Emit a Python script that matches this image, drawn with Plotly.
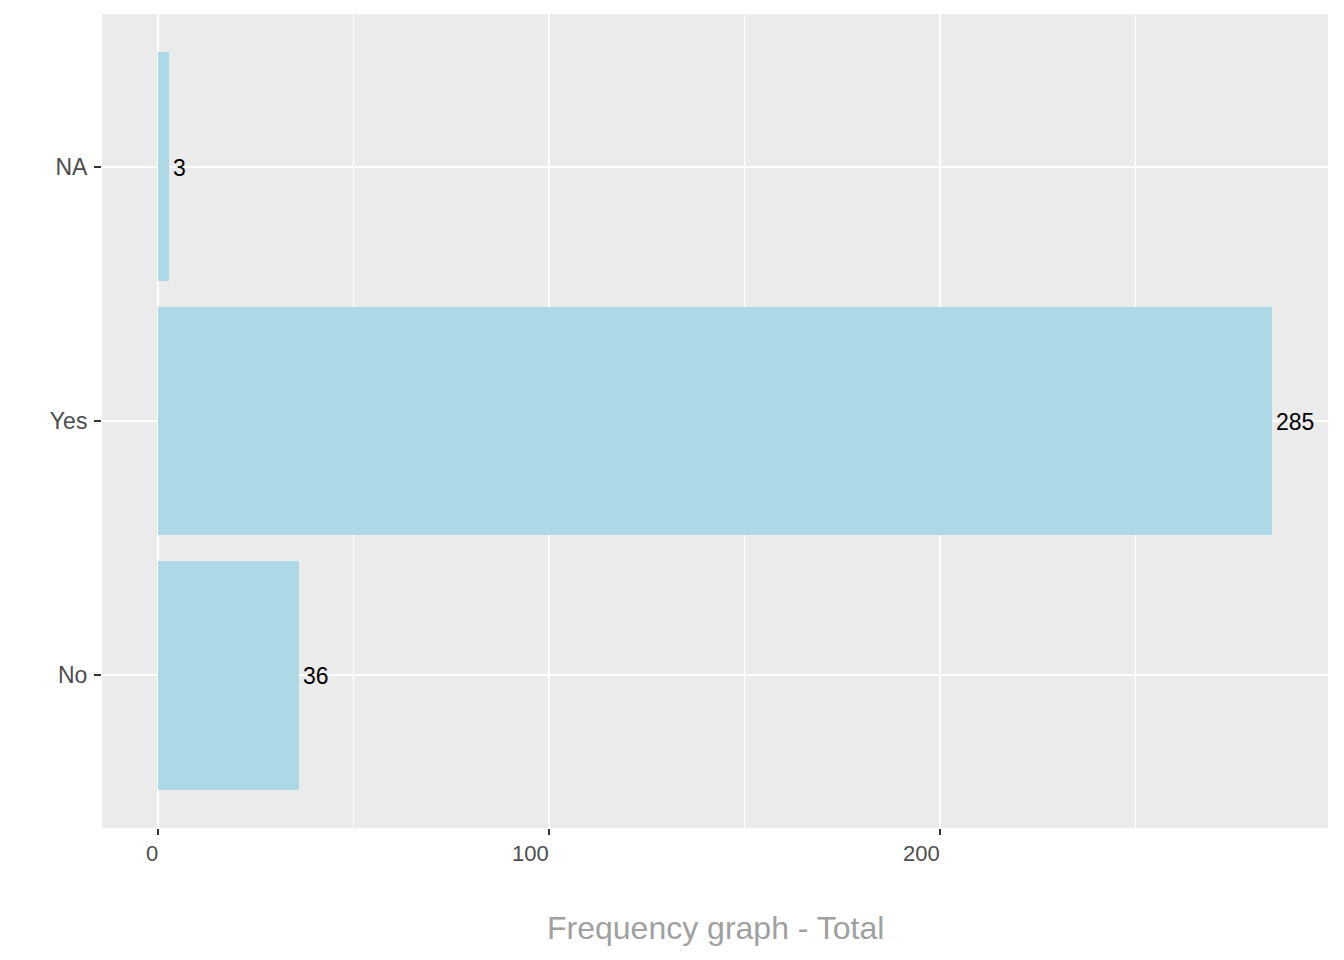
import plotly.graph_objects as go

# data
categories = ["No", "Yes", "NA"]
counts = [36, 285, 3]
x_ticks = [0, 100, 200]

bar_color = "#ADD8E6"
panel_bg = "#EBEBEB"
font_family = "Liberation Sans, Arial"

fig = go.Figure()

fig.add_trace(go.Bar(
    x=counts,
    y=categories,
    orientation="h",
    width=0.9,
    marker=dict(color=bar_color, line=dict(width=0)),
    hoverinfo="skip",
))

# value labels just right of each bar
for c, cat in zip(counts, categories):
    fig.add_annotation(
        x=c, y=cat, xref="x", yref="y",
        text=str(c), showarrow=False,
        xanchor="left", yanchor="middle", xshift=2, yshift=-1,
        font=dict(family=font_family, size=23, color="#000000"),
    )

# x tick labels sit right-aligned on their ticks, as in the reference
for t in x_ticks:
    fig.add_annotation(
        x=t, y=0, xref="x", yref="paper",
        text=str(t), showarrow=False,
        xanchor="right", yanchor="top", yshift=-11, xshift=2,
        font=dict(family=font_family, size=22, color="#4D4D4D"),
    )

# x axis title
fig.add_annotation(
    x=0.5, y=0, xref="paper", yref="paper",
    text="Frequency graph - Total", showarrow=False,
    xanchor="center", yanchor="middle", yshift=-100,
    font=dict(family=font_family, size=32, color="#A0A0A0"),
)

fig.update_layout(
    width=1344,
    height=960,
    margin=dict(l=94, r=24, t=6, b=140),
    paper_bgcolor="white",
    plot_bgcolor=panel_bg,
    showlegend=False,
    bargap=0,
    font=dict(family=font_family, color="#4D4D4D"),
)

fig.update_xaxes(
    range=[-14.25, 299.25],
    tickvals=x_ticks,
    showticklabels=False,
    ticks="outside",
    ticklen=6,
    tickwidth=2,
    tickcolor="#333333",
    showgrid=True,
    gridcolor="white",
    gridwidth=2,
    minor=dict(dtick=50, tick0=50, showgrid=True, gridcolor="white", gridwidth=1),
    zeroline=False,
    showline=False,
)

fig.update_yaxes(
    type="category",
    categoryorder="array",
    categoryarray=categories,
    range=[-0.6, 2.6],
    ticks="outside",
    ticklen=7,
    tickwidth=2,
    tickcolor="#333333",
    ticklabelstandoff=2,
    tickfont=dict(family=font_family, size=23, color="#4D4D4D"),
    showgrid=True,
    gridcolor="white",
    gridwidth=2,
    zeroline=False,
    showline=False,
)

fig.write_html("out.html")
